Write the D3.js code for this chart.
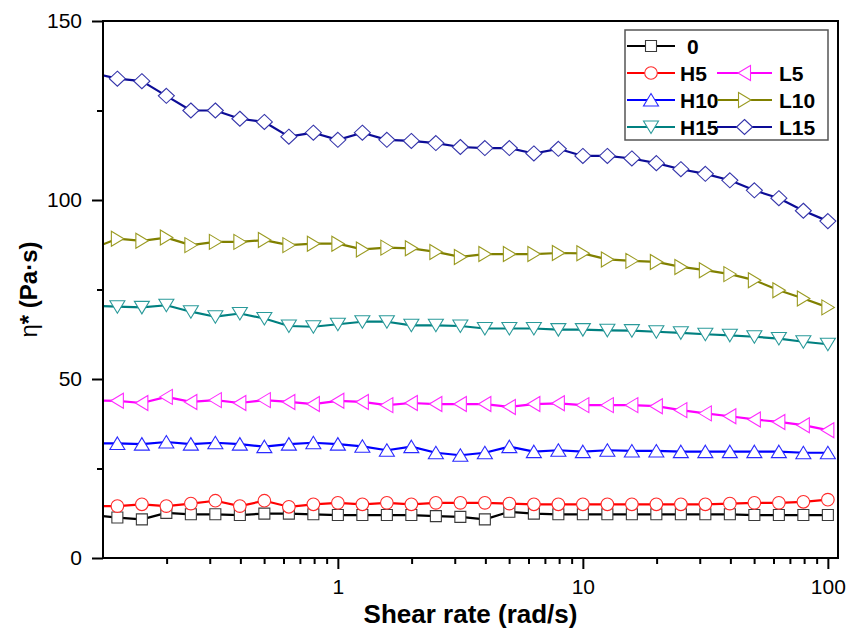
<!DOCTYPE html>
<html>
<head>
<meta charset="utf-8">
<script src="https://cdn.jsdelivr.net/npm/d3@7/dist/d3.min.js"></script>
<style>
  html, body { margin: 0; padding: 0; background: #fff; }
  svg { display: block; font-family: "Liberation Sans", Arial, sans-serif; }
</style>
</head>
<body>
<svg id="chart" width="850" height="632"></svg>
<script>
// Shear rates (rad/s), 10 points per decade
const shearRate = [0.1, 0.1259, 0.1585, 0.1995, 0.2512, 0.3162, 0.3981, 0.5012, 0.631, 0.7943,
  1, 1.259, 1.585, 1.995, 2.512, 3.162, 3.981, 5.012, 6.31, 7.943,
  10, 12.59, 15.85, 19.95, 25.12, 31.62, 39.81, 50.12, 63.1, 79.43, 100];

// Complex viscosity η* (Pa·s) for each sample
const eta0 = [12.0, 11.3, 10.8, 12.6, 12.2, 12.2, 12.0, 12.4, 12.4, 12.2, 12.0, 12.0, 12.0, 12.0, 11.7, 11.5,
  10.8, 12.9, 12.4, 12.2, 12.2, 12.2, 12.2, 12.2, 12.2, 12.2, 12.2, 12.0, 12.0, 12.0, 12.0];
const etaH5 = [14.5, 14.5, 15.0, 14.5, 15.2, 16.0, 14.5, 16.0, 14.3, 15.0, 15.4, 15.0, 15.4, 15.0, 15.4, 15.4,
  15.4, 15.2, 15.0, 15.0, 15.0, 15.0, 15.0, 15.0, 15.0, 15.0, 15.2, 15.4, 15.4, 15.7, 16.3];
const etaH10 = [32.0, 32.0, 31.8, 32.4, 31.8, 32.2, 31.8, 31.1, 31.8, 32.2, 31.8, 31.2, 30.1, 31.1, 29.4, 28.7,
  29.4, 31.1, 29.7, 30.1, 29.7, 30.1, 29.9, 29.9, 29.7, 29.7, 29.7, 29.7, 29.7, 29.4, 29.4];
const etaH15 = [70.5, 70.2, 70.0, 70.6, 68.8, 67.4, 68.3, 66.9, 64.8, 64.6, 65.3, 66.0, 66.0, 65.0, 65.0, 64.8,
  64.1, 64.1, 64.1, 63.8, 63.8, 63.6, 63.5, 63.2, 62.9, 62.5, 62.2, 61.8, 61.3, 60.4, 59.7];
const etaL5 = [44.0, 43.9, 43.3, 45.0, 43.6, 44.1, 43.3, 44.1, 43.6, 43.0, 43.9, 43.6, 42.7, 43.3, 43.0, 43.0,
  43.0, 42.2, 43.0, 43.2, 42.7, 42.7, 42.7, 42.4, 41.3, 40.4, 39.6, 38.7, 38.0, 37.1, 35.7];
const etaL10 = [86.5, 89.2, 88.6, 89.5, 87.4, 88.3, 88.3, 88.8, 87.4, 87.8, 87.8, 86.2, 86.7, 86.5, 85.5, 84.1,
  84.9, 84.9, 84.9, 85.2, 85.1, 83.4, 83.0, 82.7, 81.3, 80.4, 79.3, 77.6, 74.8, 72.5, 70.0];
const etaL15 = [135.5, 133.9, 133.2, 129.1, 125.0, 125.0, 122.7, 121.8, 117.7, 118.8, 116.8, 118.8, 116.8, 116.5,
  115.9, 114.8, 114.5, 114.5, 113.0, 114.3, 112.3, 112.3, 111.6, 110.3, 108.6, 107.3, 105.5, 102.7, 100.5, 97.0, 94.1];

const seriesNames = ["0", "H5", "H10", "H15", "L5", "L10", "L15"];
const seriesValues = [eta0, etaH5, etaH10, etaH15, etaL5, etaL10, etaL15];

// Axis ticks
const xMajorTicks = [1, 10, 100];
const xMinorTicks = [0.2, 0.3, 0.4, 0.5, 0.6, 0.7, 0.8, 0.9, 2, 3, 4, 5, 6, 7, 8, 9, 20, 30, 40, 50, 60, 70, 80, 90];
const yMajorTicks = [0, 50, 100, 150];
const yMinorTicks = [25, 75, 125];

// Styling per series
const style = {
  "0":   { line: "#000000", mark: "#3a3a3a", shape: "square" },
  "H5":  { line: "#ff0000", mark: "#ff2a2a", shape: "circle" },
  "H10": { line: "#0000ff", mark: "#2a2aff", shape: "up" },
  "H15": { line: "#008080", mark: "#2a9a9a", shape: "down" },
  "L5":  { line: "#ff00ff", mark: "#ff2aff", shape: "left" },
  "L10": { line: "#808000", mark: "#9a9a20", shape: "right" },
  "L15": { line: "#0c0c96", mark: "#3434aa", shape: "diamond" }
};

const plot = { left: 103, right: 838, top: 21, bottom: 558 };

const svg = d3.select("#chart");
const x = d3.scaleLog().domain([0.11, 110]).range([plot.left, plot.right]);
const y = d3.scaleLinear().domain([0, 150]).range([plot.bottom, plot.top]);

function shapePath(shape) {
  switch (shape) {
    case "square": return "M-5.5,-5.5H5.5V5.5H-5.5Z";
    case "circle": return "M6.3,0A6.3,6.3 0 1,1 -6.3,0A6.3,6.3 0 1,1 6.3,0Z";
    case "up": return "M0,-6.5L7.5,6L-7.5,6Z";
    case "down": return "M0,6.5L7.5,-6L-7.5,-6Z";
    case "left": return "M-6.5,0L6,-7.5L6,7.5Z";
    case "right": return "M6.5,0L-6,-7.5L-6,7.5Z";
    case "diamond": return "M0,-7.5L8,0L0,7.5L-8,0Z";
  }
}

svg.append("defs").append("clipPath").attr("id", "plotClip")
  .append("rect")
  .attr("x", plot.left).attr("y", plot.top)
  .attr("width", plot.right - plot.left).attr("height", plot.bottom - plot.top);

const dataLayer = svg.append("g").attr("clip-path", "url(#plotClip)");
const line = d3.line().x((d, i) => x(shearRate[i])).y(d => y(d));

seriesNames.forEach((name, k) => {
  const vals = seriesValues[k];
  const st = style[name];
  const g = dataLayer.append("g");
  g.append("path").datum(vals)
    .attr("d", line)
    .attr("fill", "none")
    .attr("stroke", st.line)
    .attr("stroke-width", 2.2)
    .attr("stroke-linejoin", "round");
  g.selectAll("path.mk").data(vals).join("path")
    .attr("class", "mk")
    .attr("d", shapePath(st.shape))
    .attr("transform", (d, i) => `translate(${x(shearRate[i])},${y(d)})`)
    .attr("fill", "#fff")
    .attr("stroke", st.mark)
    .attr("stroke-width", 1.1);
});

// Frame
svg.append("rect")
  .attr("x", plot.left).attr("y", plot.top)
  .attr("width", plot.right - plot.left).attr("height", plot.bottom - plot.top)
  .attr("fill", "none").attr("stroke", "#000").attr("stroke-width", 2);

// X axis
const fmtX = d => d3.format("~g")(d);
const xMajor = svg.append("g").attr("transform", `translate(0,${plot.bottom})`)
  .call(d3.axisBottom(x).tickValues(xMajorTicks).tickSize(11).tickFormat(fmtX));
const xMinor = svg.append("g").attr("transform", `translate(0,${plot.bottom})`)
  .call(d3.axisBottom(x).tickValues(xMinorTicks).tickSize(6).tickFormat(""));
[xMajor, xMinor].forEach(a => {
  a.select(".domain").remove();
  a.selectAll("line").attr("stroke", "#000").attr("stroke-width", 2);
});
xMajor.selectAll("text")
  .attr("y", 36).attr("dy", null)
  .attr("fill", "#000")
  .style("font-size", "21px");

// Y axis
const yMajor = svg.append("g").attr("transform", `translate(${plot.left},0)`)
  .call(d3.axisLeft(y).tickValues(yMajorTicks).tickSize(11).tickPadding(10));
const yMinor = svg.append("g").attr("transform", `translate(${plot.left},0)`)
  .call(d3.axisLeft(y).tickValues(yMinorTicks).tickSize(6).tickFormat(""));
[yMajor, yMinor].forEach(a => {
  a.select(".domain").remove();
  a.selectAll("line").attr("stroke", "#000").attr("stroke-width", 2);
});
yMajor.selectAll("text")
  .attr("fill", "#000")
  .style("font-size", "21px");

// Axis titles
svg.append("text")
  .attr("x", (plot.left + plot.right) / 2).attr("y", 623)
  .attr("text-anchor", "middle")
  .style("font-size", "26px").style("font-weight", "bold")
  .text("Shear rate (rad/s)");

const yTitle = svg.append("text")
  .attr("transform", `translate(37,${(plot.top + plot.bottom) / 2}) rotate(-90)`)
  .attr("text-anchor", "middle")
  .style("font-size", "24px");
yTitle.append("tspan").text("η");
yTitle.append("tspan").style("font-weight", "bold").text("* (Pa·s)");

// Legend
const legendBox = { x: 625, y: 30, w: 203, h: 110 };
const legend = svg.append("g");
legend.append("rect")
  .attr("x", legendBox.x).attr("y", legendBox.y)
  .attr("width", legendBox.w).attr("height", legendBox.h)
  .attr("fill", "#fff").attr("stroke", "#555").attr("stroke-width", 1.5);

const legendItems = [
  { name: "0",   col: 0, row: 0 },
  { name: "H5",  col: 0, row: 1 },
  { name: "L5",  col: 1, row: 1 },
  { name: "H10", col: 0, row: 2 },
  { name: "L10", col: 1, row: 2 },
  { name: "H15", col: 0, row: 3 },
  { name: "L15", col: 1, row: 3 }
];
const rowY = [46, 73, 100, 127];
const cols = [
  { x0: 627, x1: 675, tx: 680 },
  { x0: 717, x1: 772, tx: 779 }
];
legendItems.forEach(it => {
  const st = style[it.name];
  const c = cols[it.col];
  const cy = rowY[it.row];
  legend.append("line")
    .attr("x1", c.x0).attr("x2", c.x1).attr("y1", cy).attr("y2", cy)
    .attr("stroke", st.line).attr("stroke-width", 2.2);
  legend.append("path")
    .attr("d", shapePath(st.shape))
    .attr("transform", `translate(${(c.x0 + c.x1) / 2},${cy})`)
    .attr("fill", "#fff").attr("stroke", st.mark).attr("stroke-width", 1.1);
  legend.append("text")
    .attr("x", it.name === "0" ? c.tx + 7 : c.tx).attr("y", cy + 8)
    .style("font-size", "21px").style("font-weight", "bold")
    .text(it.name);
});
</script>
</body>
</html>
